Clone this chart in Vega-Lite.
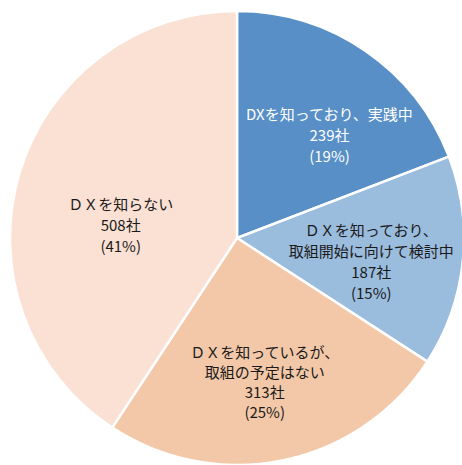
{
  "$schema": "https://vega.github.io/schema/vega-lite/v6.json",
  "width": 450,
  "height": 454,
  "autosize": {"type": "none"},
  "padding": {"left": 12, "top": 11, "right": 0, "bottom": 0},
  "background": "white",
  "view": {"stroke": null},
  "data": {
    "values": [
      {"cat": "実践中", "order": 1, "count": 239, "label": "DXを知っており、実践中\n239社\n(19%)"},
      {"cat": "検討中", "order": 2, "count": 187, "label": "ＤＸを知っており、\n取組開始に向けて検討中\n187社\n(15%)"},
      {"cat": "予定なし", "order": 3, "count": 313, "label": "ＤＸを知っているが、\n取組の予定はない\n313社\n(25%)"},
      {"cat": "知らない", "order": 4, "count": 508, "label": "ＤＸを知らない\n508社\n(41%)"}
    ]
  },
  "encoding": {
    "theta": {"field": "count", "type": "quantitative", "stack": true},
    "order": {"field": "order", "type": "quantitative", "sort": "ascending"}
  },
  "layer": [
    {
      "mark": {"type": "arc", "outerRadius": 227, "stroke": "white", "strokeWidth": 2.5},
      "encoding": {
        "color": {
          "field": "cat", "type": "nominal", "legend": null,
          "scale": {"domain": ["実践中", "検討中", "予定なし", "知らない"], "range": ["#578fc6", "#9abcdd", "#f3c8a8", "#fae1d4"]}
        }
      }
    },
    {
      "mark": {"type": "text", "radius": 135, "dx": 16, "dy": -12, "fontSize": 15, "lineHeight": 21, "lineBreak": "\n", "font": "Noto Sans CJK JP", "color": "white", "align": "center", "baseline": "middle"},
      "encoding": {"text": {"condition": {"test": "datum.cat === '実践中'", "field": "label"}, "value": ""}}
    },
    {
      "mark": {"type": "text", "radius": 135, "dx": 0, "dy": -21, "fontSize": 15, "lineHeight": 21, "lineBreak": "\n", "font": "Noto Sans CJK JP", "color": "#1a1a1a", "align": "center", "baseline": "middle"},
      "encoding": {"text": {"condition": {"test": "datum.cat === '検討中'", "field": "label"}, "value": ""}}
    },
    {
      "mark": {"type": "text", "radius": 135, "dx": 0, "dy": -17, "fontSize": 15, "lineHeight": 20, "lineBreak": "\n", "font": "Noto Sans CJK JP", "color": "#1a1a1a", "align": "center", "baseline": "middle"},
      "encoding": {"text": {"condition": {"test": "datum.cat === '予定なし'", "field": "label"}, "value": ""}}
    },
    {
      "mark": {"type": "text", "radius": 135, "dx": 13, "dy": 6, "fontSize": 15, "lineHeight": 21, "lineBreak": "\n", "font": "Noto Sans CJK JP", "color": "#1a1a1a", "align": "center", "baseline": "middle"},
      "encoding": {"text": {"condition": {"test": "datum.cat === '知らない'", "field": "label"}, "value": ""}}
    }
  ]
}
